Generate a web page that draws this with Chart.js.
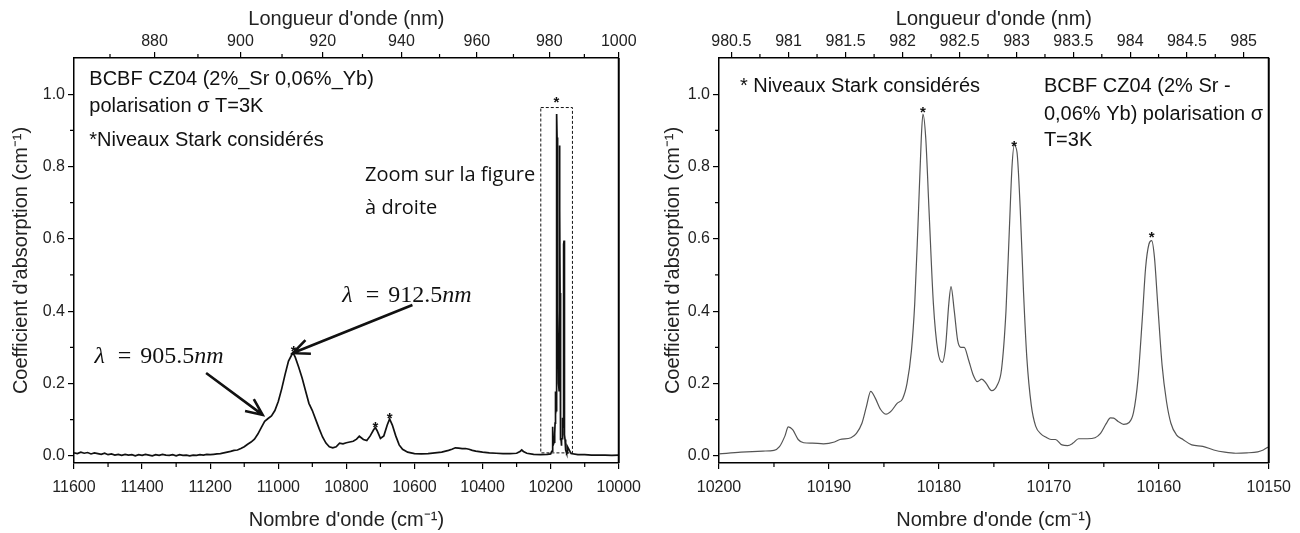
<!DOCTYPE html>
<html>
<head>
<meta charset="utf-8">
<script src="https://cdn.jsdelivr.net/npm/chart.js@4.4.1/dist/chart.umd.min.js"></script>
<style>
html, body { margin: 0; padding: 0; background: #fff; }
#cadre { position: relative; width: 1300px; height: 533px; }
.panneau { position: absolute; top: 0; width: 650px; height: 533px; }
</style>
</head>
<body>
<div id="cadre">
  <div class="panneau" style="left:0"><canvas id="graphe-gauche"></canvas></div>
  <div class="panneau" style="left:650px"><canvas id="graphe-droite"></canvas></div>
</div>
<script>
// spectre large (figure de gauche) : nombre d'onde en cm-1, coefficient en cm-1
const gaucheNombreOndeA = [11600, 11590, 11580, 11570, 11560, 11550, 11540, 11530, 11520, 11510, 11500, 11490, 11480, 11470, 11460, 11450, 11440, 11430, 11420, 11410, 11400, 11390, 11380, 11370, 11360, 11350, 11340, 11330, 11320, 11310, 11300, 11290, 11280, 11270, 11260, 11250, 11240, 11230, 11220, 11210, 11200,
  11190, 11180, 11170, 11160, 11150, 11140, 11130, 11120, 11110, 11100, 11090, 11080, 11070, 11060, 11050, 11040, 11030, 11020, 11010, 11000, 10990, 10980, 10970, 10960, 10955, 10950, 10940, 10930, 10920, 10910, 10900, 10890, 10880, 10870, 10860, 10850, 10840, 10830, 10820, 10810, 10800, 10790, 10780, 10770, 10762, 10750, 10740, 10730, 10720, 10715, 10710, 10700, 10690, 10680, 10673, 10665, 10655, 10645, 10635, 10620, 10600, 10580, 10560, 10540, 10520, 10500, 10490, 10480, 10470, 10460, 10450, 10440, 10430, 10420, 10400, 10380, 10360, 10340, 10320, 10300, 10290, 10285, 10280, 10270, 10250, 10230, 10210];
const gaucheAbsorptionA = [0.008, 0.006, 0.010, 0.007, 0.009, 0.005, 0.008, 0.006, 0.004, 0.007, 0.003, 0.005, 0.002, 0.004, 0.001, 0.004, 0.002, 0.003, 0.000, 0.003, 0.001, 0.004, 0.002, 0.000, 0.003, 0.001, 0.004, 0.002, 0.001, 0.003, 0.000, 0.003, 0.001, 0.002, 0.000, 0.002, 0.001, 0.003, 0.002, 0.004, 0.003,
  0.004, 0.005, 0.006, 0.008, 0.010, 0.012, 0.015, 0.016, 0.020, 0.025, 0.032, 0.038, 0.046, 0.060, 0.078, 0.095, 0.103, 0.110, 0.125, 0.150, 0.185, 0.225, 0.262, 0.280, 0.282, 0.272, 0.245, 0.215, 0.180, 0.145, 0.125, 0.100, 0.075, 0.052, 0.035, 0.025, 0.022, 0.025, 0.035, 0.033, 0.036, 0.038, 0.040, 0.046, 0.054, 0.045, 0.042, 0.055, 0.072, 0.078, 0.070, 0.048, 0.055, 0.085, 0.102, 0.085, 0.055, 0.030, 0.018, 0.010, 0.006, 0.005, 0.006, 0.008, 0.010, 0.015, 0.018, 0.022, 0.021, 0.020, 0.020, 0.018, 0.015, 0.013, 0.010, 0.008, 0.007, 0.006, 0.006, 0.007, 0.012, 0.016, 0.012, 0.007, 0.004, 0.003, 0.004];
const gaucheNombreOndeB = [10140, 10120, 10100, 10080, 10060, 10040, 10020, 10000];
const gaucheAbsorptionB = [0.006, 0.003, 0.003, 0.002, 0.002, 0.002, 0.001, 0.002];

// zoom (figure de droite)
const droiteNombreOnde = [10200, 10198, 10196, 10195, 10194.5, 10194, 10193.7, 10193.3, 10192.8, 10192.3, 10191.5, 10190.5, 10189.5, 10189, 10188, 10187.5, 10187, 10186.6, 10186.2, 10185.8, 10185.3, 10184.8, 10184.3, 10183.8, 10183.3, 10182.9, 10182.5, 10182.2, 10181.9, 10181.6, 10181.45, 10181.2, 10180.9, 10180.5, 10180.1, 10179.7, 10179.4, 10179.1, 10178.9, 10178.6, 10178.3, 10178, 10177.7, 10177.3, 10176.9, 10176.5, 10176.1, 10175.7, 10175.2, 10174.7, 10174.3, 10173.9, 10173.6, 10173.35, 10173.15, 10172.9, 10172.6, 10172.3, 10172, 10171.6, 10171.2, 10170.7, 10170.3, 10169.8, 10169.4, 10168.8, 10168.3, 10167.8, 10167.3, 10166.5, 10165.8, 10165.3, 10164.8, 10164.4, 10164.1, 10163.7, 10163.2, 10162.7, 10162.3, 10161.9, 10161.5, 10161.2, 10160.9, 10160.65, 10160.4, 10160.1, 10159.7, 10159.3, 10158.9, 10158.4, 10157.8, 10157, 10156, 10155, 10154, 10153, 10152, 10151, 10150.5, 10150];
const droiteAbsorption = [0.005, 0.010, 0.013, 0.015, 0.025, 0.055, 0.080, 0.072, 0.045, 0.036, 0.035, 0.033, 0.038, 0.045, 0.050, 0.062, 0.090, 0.135, 0.178, 0.160, 0.128, 0.115, 0.125, 0.145, 0.158, 0.200, 0.290, 0.420, 0.640, 0.880, 0.945, 0.880, 0.680, 0.420, 0.290, 0.258, 0.300, 0.420, 0.468, 0.400, 0.320, 0.300, 0.300, 0.265, 0.225, 0.205, 0.212, 0.200, 0.180, 0.195, 0.240, 0.400, 0.620, 0.800, 0.858, 0.840, 0.680, 0.450, 0.270, 0.140, 0.082, 0.060, 0.052, 0.045, 0.045, 0.030, 0.028, 0.035, 0.047, 0.047, 0.050, 0.062, 0.088, 0.105, 0.104, 0.095, 0.087, 0.092, 0.120, 0.210, 0.380, 0.520, 0.585, 0.595, 0.550, 0.420, 0.250, 0.150, 0.090, 0.058, 0.045, 0.030, 0.026, 0.016, 0.010, 0.007, 0.008, 0.011, 0.016, 0.025];

// graduations
const ticksY = [0, 0.2, 0.4, 0.6, 0.8, 1.0];
const ticksYMineurs = [0.1, 0.3, 0.5, 0.7, 0.9];
const gaucheTicksBas = [11600, 11400, 11200, 11000, 10800, 10600, 10400, 10200, 10000];
const gaucheTicksBasMineurs = [11500, 11300, 11100, 10900, 10700, 10500, 10300, 10100];
const gaucheTicksNm = [880, 900, 920, 940, 960, 980, 1000];
const gaucheTicksNmMineurs = [870, 890, 910, 930, 950, 970, 990];
const droiteTicksBas = [10200, 10190, 10180, 10170, 10160, 10150];
const droiteTicksBasMineurs = [10195, 10185, 10175, 10165, 10155];
const droiteTicksNm = [980.5, 981, 981.5, 982, 982.5, 983, 983.5, 984, 984.5, 985];
const droiteTicksNmMineurs = [980.75, 981.25, 981.75, 982.25, 982.75, 983.25, 983.75, 984.25, 984.75];

const police = '"Liberation Sans", Arial, sans-serif';

function points(xs, ys) {
    return xs.map((x, i) => ({ x: x, y: ys[i] }));
}

function fleche(ctx, x1, y1, x2, y2) {
    const ang = Math.atan2(y2 - y1, x2 - x1);
    const l = 18, ouv = 0.42;
    ctx.beginPath();
    ctx.moveTo(x1, y1);
    ctx.lineTo(x2, y2);
    ctx.moveTo(x2 - l * Math.cos(ang - ouv), y2 - l * Math.sin(ang - ouv));
    ctx.lineTo(x2, y2);
    ctx.lineTo(x2 - l * Math.cos(ang + ouv), y2 - l * Math.sin(ang + ouv));
    ctx.stroke();
}

function lambda(ctx, x, y, nombre) {
    ctx.textBaseline = 'middle';
    ctx.textAlign = 'left';
    ctx.font = 'italic 24px "Liberation Serif", serif';
    ctx.fillText('λ', x, y);
    x += ctx.measureText('λ').width + 13;
    ctx.font = '24px "Liberation Serif", serif';
    ctx.fillText('=', x, y);
    x += ctx.measureText('=').width + 9;
    ctx.fillText(nombre, x, y);
    x += ctx.measureText(nombre).width;
    ctx.font = 'italic 24px "Liberation Serif", serif';
    ctx.fillText('nm', x, y);
}

// graduations mineures + cadre à droite
const pluginGraduations = {
    id: 'graduations',
    afterDraw(chart, args, opts) {
        const ctx = chart.ctx;
        const a = chart.chartArea;
        const sx = chart.scales.x, sy = chart.scales.y;
        ctx.save();
        ctx.strokeStyle = '#000';
        ctx.lineWidth = 1.2;
        ctx.beginPath();
        opts.bas.forEach(v => { const p = sx.getPixelForValue(v); ctx.moveTo(p, a.bottom); ctx.lineTo(p, a.bottom + 4); });
        opts.haut.forEach(nm => { const p = sx.getPixelForValue(1e7 / nm); ctx.moveTo(p, a.top); ctx.lineTo(p, a.top - 4); });
        opts.gauche.forEach(v => { const p = sy.getPixelForValue(v); ctx.moveTo(a.left, p); ctx.lineTo(a.left - 4, p); });
        ctx.stroke();
        ctx.lineWidth = 2;
        ctx.beginPath();
        ctx.moveTo(a.right, a.top);
        ctx.lineTo(a.right, a.bottom);
        ctx.stroke();
        ctx.restore();
    }
};

const pluginAnnotations = {
    id: 'annotations',
    afterDatasetsDraw(chart, args, opts) {
        const ctx = chart.ctx;
        const sx = chart.scales.x, sy = chart.scales.y;
        ctx.save();
        ctx.fillStyle = '#111';
        ctx.strokeStyle = '#111';
        (opts.textes || []).forEach(t => {
            ctx.font = t.font;
            ctx.textBaseline = 'middle';
            ctx.textAlign = 'left';
            ctx.fillText(t.texte, sx.getPixelForValue(t.x), sy.getPixelForValue(t.y));
        });
        (opts.etoiles || []).forEach(e => {
            ctx.font = 'bold 15px ' + police;
            ctx.textAlign = 'center';
            ctx.textBaseline = 'alphabetic';
            ctx.fillText('*', sx.getPixelForValue(e[0]), sy.getPixelForValue(e[1]) + 9);
        });
        (opts.lambdas || []).forEach(l => {
            lambda(ctx, sx.getPixelForValue(l.x), sy.getPixelForValue(l.y), l.nombre);
        });
        ctx.lineWidth = 2.6;
        (opts.fleches || []).forEach(f => {
            fleche(ctx, sx.getPixelForValue(f[0]), sy.getPixelForValue(f[1]), sx.getPixelForValue(f[2]), sy.getPixelForValue(f[3]));
        });
        if (opts.boite) {
            const b = opts.boite;
            const x1 = sx.getPixelForValue(b[0]), x2 = sx.getPixelForValue(b[1]);
            const y1 = sy.getPixelForValue(b[2]), y2 = sy.getPixelForValue(b[3]);
            ctx.lineWidth = 1;
            ctx.setLineDash([3, 2]);
            ctx.strokeRect(Math.min(x1, x2), Math.min(y1, y2), Math.abs(x2 - x1), Math.abs(y2 - y1));
        }
        ctx.restore();
    }
};

function echelles(min, max, ticksBas, ticksNm, largeurY, padTitreY) {
    const gridAxe = { drawOnChartArea: false, tickLength: 6, color: '#000', lineWidth: 1.2 };
    const bordure = { color: '#000', width: 1.5 };
    const fontTicks = { family: police, size: 16 };
    const fontTitre = { family: police, size: 20 };
    return {
        x: {
            type: 'linear', position: 'bottom', reverse: true, min: min, max: max,
            afterBuildTicks: s => { s.ticks = ticksBas.map(v => ({ value: v })); },
            afterFit: s => { s.height = 70; },
            ticks: { color: '#222', font: fontTicks, padding: 9, autoSkip: false, maxRotation: 0, callback: v => String(v) },
            grid: gridAxe, border: bordure,
            title: { display: true, text: "Nombre d'onde (cm⁻¹)", color: '#222', font: fontTitre, padding: { top: 0, bottom: 1 } }
        },
        x2: {
            type: 'linear', position: 'top', reverse: true, min: min, max: max,
            afterBuildTicks: s => { s.ticks = ticksNm.map(nm => ({ value: 1e7 / nm })); },
            afterFit: s => { s.height = 58; },
            ticks: { color: '#222', font: fontTicks, padding: 1, autoSkip: false, maxRotation: 0, callback: v => String(Number((1e7 / v).toFixed(1))) },
            grid: gridAxe, border: bordure,
            title: { display: true, text: "Longueur d'onde (nm)", color: '#222', font: fontTitre, padding: { top: 7, bottom: 0 } }
        },
        y: {
            type: 'linear', position: 'left', min: -0.02, max: 1.1,
            afterBuildTicks: s => { s.ticks = ticksY.map(v => ({ value: v })); },
            afterFit: s => { s.width = largeurY; },
            ticks: { color: '#222', font: fontTicks, padding: 3, callback: v => v.toFixed(1) },
            grid: gridAxe, border: bordure,
            title: { display: true, text: "Coefficient d'absorption (cm⁻¹)", color: '#222', font: fontTitre, padding: { top: padTitreY, bottom: 0 } }
        }
    };
}

const fontTexte = '20px ' + police;
const fontZoom = '20px "Open Sans", sans-serif';

new Chart(document.getElementById('graphe-gauche').getContext('2d'), {
    type: 'line',
    data: {
        datasets: [{
            data: points(gaucheNombreOndeA, gaucheAbsorptionA)
                .concat(points(droiteNombreOnde, droiteAbsorption))
                .concat(points(gaucheNombreOndeB, gaucheAbsorptionB)),
            borderColor: '#111',
            borderWidth: 1.7,
            pointRadius: 0,
            tension: 0
        }]
    },
    options: {
        responsive: true,
        maintainAspectRatio: false,
        animation: false,
        layout: { padding: { left: 0, right: 24, top: 0, bottom: 0 } },
        scales: echelles(10000, 11600, gaucheTicksBas, gaucheTicksNm, 74, 9),
        plugins: {
            legend: { display: false },
            tooltip: { enabled: false },
            graduations: { bas: gaucheTicksBasMineurs, haut: gaucheTicksNmMineurs, gauche: ticksYMineurs },
            annotations: {
                textes: [
                    { texte: 'BCBF CZ04 (2%_Sr 0,06%_Yb)', x: 11555, y: 1.040, font: fontTexte },
                    { texte: 'polarisation σ T=3K', x: 11555, y: 0.965, font: fontTexte },
                    { texte: '*Niveaux Stark considérés', x: 11555, y: 0.872, font: fontTexte },
                    { texte: 'Zoom sur la figure', x: 10745, y: 0.776, font: fontZoom },
                    { texte: 'à droite', x: 10745, y: 0.685, font: fontZoom }
                ],
                etoiles: [[10955, 0.30], [10715, 0.09], [10673, 0.115], [10183, 0.99]],
                lambdas: [
                    { x: 10812, y: 0.444, nombre: '912.5' },
                    { x: 11540, y: 0.273, nombre: '905.5' }
                ],
                fleches: [[10606, 0.417, 10957, 0.284], [11212, 0.229, 11046, 0.113]],
                boite: [10229, 10136, 0.008, 0.963]
            }
        }
    },
    plugins: [pluginGraduations, pluginAnnotations]
});

new Chart(document.getElementById('graphe-droite').getContext('2d'), {
    type: 'line',
    data: {
        datasets: [{
            data: points(droiteNombreOnde, droiteAbsorption),
            borderColor: '#555',
            borderWidth: 1.2,
            pointRadius: 0,
            cubicInterpolationMode: 'monotone'
        }]
    },
    options: {
        responsive: true,
        maintainAspectRatio: false,
        animation: false,
        layout: { padding: { left: 0, right: 31, top: 0, bottom: 0 } },
        scales: echelles(10150, 10200, droiteTicksBas, droiteTicksNm, 69, 11),
        plugins: {
            legend: { display: false },
            tooltip: { enabled: false },
            graduations: { bas: droiteTicksBasMineurs, haut: droiteTicksNmMineurs, gauche: ticksYMineurs },
            annotations: {
                textes: [
                    { texte: '* Niveaux Stark considérés', x: 10198.1, y: 1.021, font: fontTexte },
                    { texte: 'BCBF CZ04 (2% Sr -', x: 10170.45, y: 1.021, font: fontTexte },
                    { texte: '0,06% Yb) polarisation σ', x: 10170.45, y: 0.945, font: fontTexte },
                    { texte: 'T=3K', x: 10170.45, y: 0.872, font: fontTexte }
                ],
                etoiles: [[10181.45, 0.963], [10173.15, 0.867], [10160.65, 0.615]]
            }
        }
    },
    plugins: [pluginGraduations, pluginAnnotations]
});
</script>
</body>
</html>
